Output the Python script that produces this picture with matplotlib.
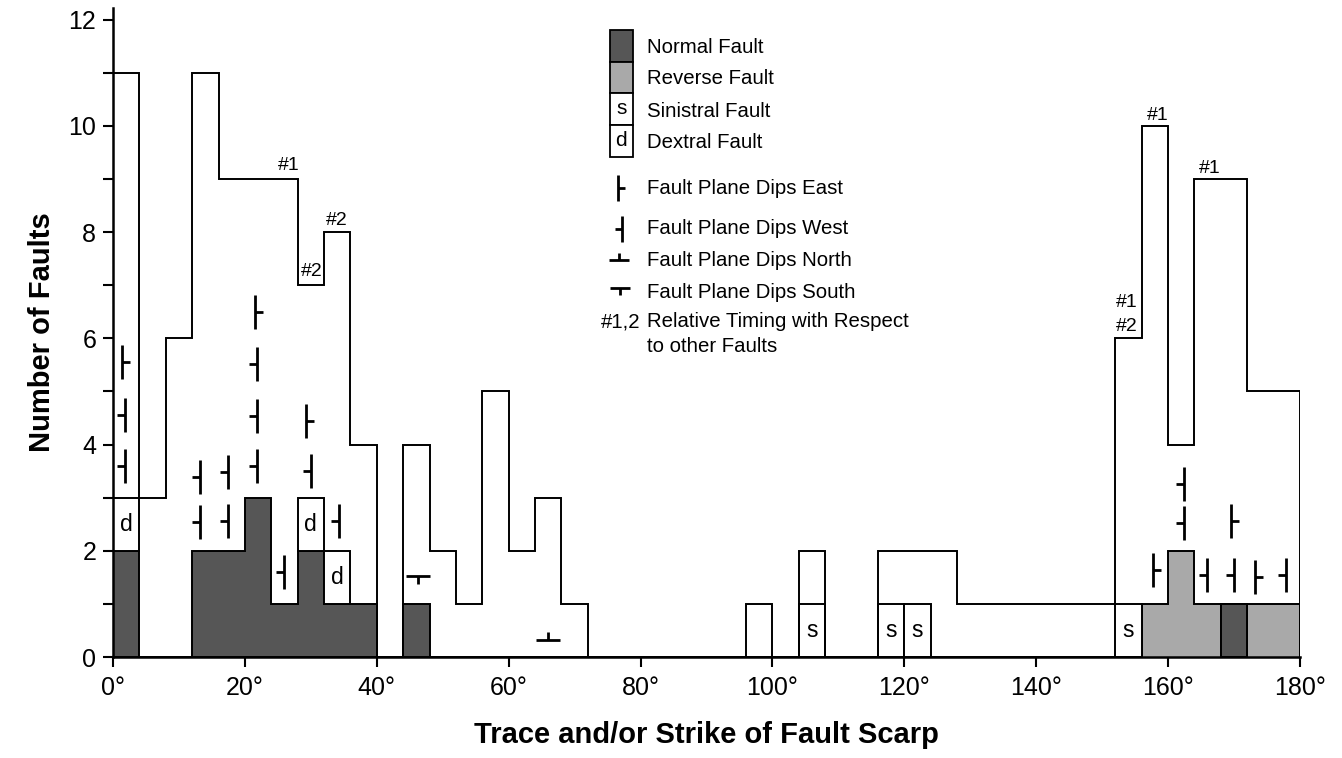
import numpy as np
import matplotlib
matplotlib.use("Agg")
import matplotlib.pyplot as plt
from matplotlib.path import Path
from matplotlib.patches import Rectangle

plt.rcParams['font.family'] = ['Liberation Sans', 'DejaVu Sans']

# ---------------- data ----------------
bin_edges = np.arange(0, 184, 4)          # 4-degree bins, 0..180
# total number of faults per bin (outline)
total_counts = [11, 3, 6, 11, 9, 9, 9, 7, 8, 4,
                0, 4, 2, 1, 5, 2, 3, 1, 0, 0,
                0, 0, 0, 0, 1, 0, 2, 0, 0, 2,
                2, 2, 1, 1, 1, 1, 1, 1, 6, 10,
                4, 9, 9, 5, 5]
normal_counts = [2, 0, 0, 2, 2, 3, 1, 2, 1, 1,
                 0, 1, 0, 0, 0, 0, 0, 0, 0, 0,
                 0, 0, 0, 0, 0, 0, 0, 0, 0, 0,
                 0, 0, 0, 0, 0, 0, 0, 0, 0, 0,
                 0, 0, 1, 0, 0]
reverse_counts = [0] * 39 + [1, 2, 1, 0, 1, 1]
# sinistral boxes: (bin index, bottom)
sinistral_bins = [26, 29, 30, 38]
sinistral_bottom = [0, 0, 0, 0]
# dextral boxes: (bin index, bottom)
dextral_bins = [0, 7, 8]
dextral_bottom = [2, 2, 1]

# fault plane dip symbols
dip_x = [1.3, 1.8, 1.8,
         13.2, 13.2, 17.5, 17.5,
         21.5, 21.9, 21.9, 21.9,
         26.0, 29.3, 30.0, 34.3,
         46.3, 66.0,
         157.75, 162.35, 162.35, 165.85, 169.6, 170.0, 173.25, 177.9]
dip_y = [5.56, 4.56, 3.6,
         3.39, 2.54, 3.49, 2.56,
         6.5, 5.52, 4.54, 3.6,
         1.6, 4.44, 3.5, 2.56,
         1.53, 0.32,
         1.64, 3.25, 2.52, 1.54, 2.57, 1.54, 1.5, 1.55]
dip_dir = ['E', 'W', 'W',
           'W', 'W', 'W', 'W',
           'E', 'W', 'W', 'W',
           'W', 'E', 'W', 'W',
           'S', 'N',
           'E', 'W', 'W', 'W', 'E', 'W', 'E', 'W']

# relative timing labels
timing_text = ['#1', '#2', '#2', '#1', '#1', '#1', '#2']
timing_x = [26.6, 30.2, 34.0, 158.5, 166.35, 153.8, 153.8]
timing_y = [9.25, 7.26, 8.22, 10.2, 9.19, 6.68, 6.23]

xtick_vals = list(range(0, 181, 20))
xtick_labels = [f"{v}\u00b0" for v in xtick_vals]

NORMAL_C = '#565656'
REVERSE_C = '#a9a9a9'

# ---------------- markers ----------------
def vmark(direction):
    t = 0.5 if direction == 'E' else -0.5
    return Path([(0, -1), (0, 1), (0, 0), (t, 0)],
                [Path.MOVETO, Path.LINETO, Path.MOVETO, Path.LINETO])

def hmark(direction):
    t = 0.65 if direction == 'N' else -0.65
    return Path([(-1, 0), (1, 0), (0, 0), (0, t)],
                [Path.MOVETO, Path.LINETO, Path.MOVETO, Path.LINETO])

MARKERS = {'E': vmark('E'), 'W': vmark('W'), 'N': hmark('N'), 'S': hmark('S')}
MSIZE = {'E': 24, 'W': 24, 'N': 17.5, 'S': 17.5}

# ---------------- figure ----------------
fig = plt.figure(figsize=(13.42, 7.58), dpi=100)
ax = fig.add_axes([0.0842, 0.1332, 0.8845, 0.8562])

edges = np.array(bin_edges, dtype=float)
width = 4

# normal faults (dark)
ax.stairs(normal_counts, edges, fill=True, facecolor=NORMAL_C,
          edgecolor='black', linewidth=1.4, zorder=2)
# reverse faults (light)
ax.stairs(reverse_counts, edges, fill=True, facecolor=REVERSE_C,
          edgecolor='black', linewidth=1.4, zorder=2)
# normal fault box in reverse area redrawn on top
ax.bar(edges[42], normal_counts[42], width=width, align='edge',
       color=NORMAL_C, edgecolor='black', linewidth=1.4, zorder=2.5)

# sinistral boxes
for b, bot in zip(sinistral_bins, sinistral_bottom):
    ax.bar(edges[b], 1, bottom=bot, width=width, align='edge',
           color='white', edgecolor='black', linewidth=1.4, zorder=2.5)
    ax.text(edges[b] + width / 2, bot + 0.5, 's', ha='center', va='center',
            fontsize=16.5, zorder=4)
# dextral boxes
for b, bot in zip(dextral_bins, dextral_bottom):
    ax.bar(edges[b], 1, bottom=bot, width=width, align='edge',
           color='white', edgecolor='black', linewidth=1.4, zorder=2.5)
    ax.text(edges[b] + width / 2, bot + 0.5, 'd', ha='center', va='center',
            fontsize=16.5, zorder=4)

# outline of all faults
ax.stairs(total_counts, edges, fill=False, color='black', linewidth=1.4,
          zorder=3)

# dip symbols
for x, y, d in zip(dip_x, dip_y, dip_dir):
    ax.plot([x], [y], linestyle='none', marker=MARKERS[d],
            markersize=MSIZE[d], markeredgewidth=2.0,
            markeredgecolor='black', markerfacecolor='none', zorder=4)

# timing labels
for t, x, y in zip(timing_text, timing_x, timing_y):
    ax.text(x, y, t, ha='center', va='center', fontsize=14, zorder=4)

# ---------------- legend (drawn in data coords) ----------------
LEG_FS = 14.7
leg_x0, leg_x1 = 75.4, 78.8
leg_edges = [11.81, 11.21, 10.62, 10.02, 9.42]
leg_fills = [NORMAL_C, REVERSE_C, 'white', 'white']
leg_inner = ['', '', 's', 'd']
leg_names = ['Normal Fault', 'Reverse Fault', 'Sinistral Fault', 'Dextral Fault']
leg_text_y = [11.47, 10.89, 10.28, 9.68]
for i in range(4):
    top, bot = leg_edges[i], leg_edges[i + 1]
    ax.add_patch(Rectangle((leg_x0, bot), leg_x1 - leg_x0, top - bot,
                           facecolor=leg_fills[i], edgecolor='black',
                           linewidth=1.3, zorder=3))
    if leg_inner[i]:
        ax.text((leg_x0 + leg_x1) / 2, (top + bot) / 2, leg_inner[i],
                ha='center', va='center', fontsize=15, zorder=4)
    ax.text(81.0, leg_text_y[i], leg_names[i], ha='left', va='center',
            fontsize=LEG_FS)

sym_names = ['Fault Plane Dips East', 'Fault Plane Dips West',
             'Fault Plane Dips North', 'Fault Plane Dips South']
sym_dirs = ['E', 'W', 'N', 'S']
sym_x = [76.6, 77.2, 76.8, 76.9]
sym_y = [8.83, 8.06, 7.48, 6.95]
sym_text_y = [8.83, 8.06, 7.46, 6.87]
for n, d, x, y, ty in zip(sym_names, sym_dirs, sym_x, sym_y, sym_text_y):
    ms = 19 if d in 'EW' else 15
    ax.plot([x], [y], linestyle='none', marker=MARKERS[d], markersize=ms,
            markeredgewidth=2.0, markeredgecolor='black',
            markerfacecolor='none', zorder=4)
    ax.text(81.0, ty, n, ha='left', va='center', fontsize=LEG_FS)

ax.text(80.0, 6.31, '#1,2', ha='right', va='center', fontsize=LEG_FS)
ax.text(81.0, 6.31, 'Relative Timing with Respect', ha='left', va='center',
        fontsize=LEG_FS)
ax.text(81.0, 5.84, 'to other Faults', ha='left', va='center',
        fontsize=LEG_FS)

# ---------------- axes styling ----------------
ax.set_xlim(0, 180)
ax.set_ylim(0, 12.22)
ax.spines['top'].set_visible(False)
ax.spines['right'].set_visible(False)
ax.spines['left'].set_linewidth(1.8)
ax.spines['bottom'].set_linewidth(1.8)
ax.spines['left'].set_zorder(5)
ax.spines['bottom'].set_zorder(5)

ax.set_xticks(xtick_vals)
ax.set_xticklabels(xtick_labels)
ax.set_yticks(range(0, 13, 2))
ax.set_yticks(range(1, 12, 2), minor=True)
ax.tick_params(axis='both', which='both', direction='out', length=7,
               width=1.5, labelsize=18, colors='black', pad=5)
ax.tick_params(axis='x', pad=7)

ax.set_xlabel('Trace and/or Strike of Fault Scarp', fontsize=21,
              fontweight='bold', labelpad=15)
ax.set_ylabel('Number of Faults', fontsize=21, fontweight='bold',
              labelpad=9)

fig.savefig('out.png', dpi=100, facecolor='white')
